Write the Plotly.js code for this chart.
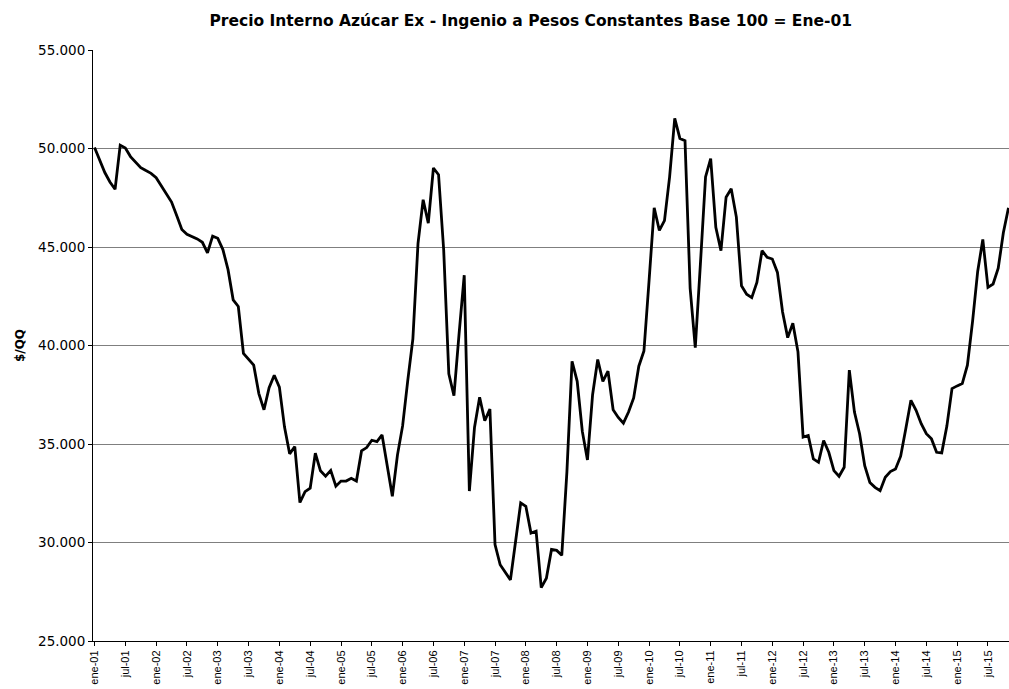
<!DOCTYPE html>
<html>
<head>
<meta charset="utf-8">
<script src="https://cdn.plot.ly/plotly-3.0.1.min.js"></script>
<style>html,body{margin:0;padding:0;background:#fff;}#chart{width:1009px;height:689px;}</style>
</head>
<body>
<div id="chart"></div>
<script>
// Month abbreviations and years for the category axis
const monthNames = ["ene","feb","mar","abr","may","jun","jul","ago","sep","oct","nov","dic"];
const years = ["01","02","03","04","05","06","07","08","09","10","11","12","13","14","15"];

// Price values ($/QQ) by year
const p2001 = [50050,49460,48780,48300,47930,50170,50020,49590,49290,49030,48880,48740];
const p2002 = [48520,48100,47640,47280,46600,45890,45650,45550,45410,45240,44700,45550];
const p2003 = [45440,44870,43850,42320,41980,39600,39290,39000,37560,36740,37860,38490];
const p2004 = [37890,35860,34500,34870,32030,32580,32760,34530,33640,33370,33660,32860];
const p2005 = [33120,33120,33260,33120,34650,34820,35190,35120,35460,34000,32350,34450];
const p2006 = [35920,38220,40340,45190,47400,46210,49010,48670,44850,38560,37450,40600];
const p2007 = [43570,32610,35840,37370,36180,36770,29890,28870,28480,28100,30050,32010];
const p2008 = [31840,30480,30570,27710,28190,29650,29600,29350,33600,39200,38180,35640];
const p2009 = [34190,37500,39290,38180,38700,36740,36350,36060,36620,37340,38950,39720];
const p2010 = [43290,46990,45840,46340,48560,51530,50510,50400,42900,39890,44140,48560];
const p2011 = [49490,46000,44815,47530,47960,46520,43030,42600,42430,43200,44815,44475];
const p2012 = [44390,43710,41700,40400,41130,39680,35350,35430,34240,34070,35180,34580];
const p2013 = [33650,33360,33820,38750,36620,35520,33900,33050,32800,32630,33310,33600];
const p2014 = [33730,34380,35770,37220,36710,36030,35520,35260,34580,34550,35910,37810];
const p2015 = [37950,38070,39000,41210,43760,45380,42950,43120,43930,45720,46990];

const values = [].concat(p2001,p2002,p2003,p2004,p2005,p2006,p2007,p2008,p2009,p2010,p2011,p2012,p2013,p2014,p2015);
const categories = [];
for (const y of years) for (const m of monthNames) categories.push(m + "-" + y);
const months = categories.slice(0, values.length);
const tickLabels = months.filter((c, i) => i % 6 === 0);

const trace = {
  x: months,
  y: values,
  type: "scatter",
  mode: "lines",
  line: {color: "#000000", width: 2.8},
  hoverinfo: "x+y"
};

const layout = {
  width: 1009,
  height: 689,
  margin: {l: 93, r: 0, t: 50, b: 48},
  paper_bgcolor: "#ffffff",
  plot_bgcolor: "#ffffff",
  separators: ",.",
  showlegend: false,
  font: {family: "DejaVu Sans, Liberation Sans, Arial, sans-serif", color: "#000"},
  title: {
    text: "<b>Precio Interno Azúcar Ex - Ingenio a Pesos Constantes Base 100 = Ene-01</b>",
    font: {size: 15.5, family: "DejaVu Sans, Arial, sans-serif", color: "#000"},
    xref: "container", x: 0.526, xanchor: "center",
    yref: "container", y: 0.97, yanchor: "middle"
  },
  xaxis: {
    type: "category",
    range: [-0.3, 178.1],
    tickmode: "array",
    tickvals: tickLabels,
    ticktext: tickLabels,
    tickangle: -90,
    tickfont: {size: 11, family: "Liberation Sans, Arial, sans-serif"},
    ticks: "outside",
    ticklen: 4,
    tickcolor: "#000",
    showgrid: false,
    showline: true,
    linecolor: "#000",
    linewidth: 1,
    zeroline: false,
    automargin: false
  },
  yaxis: {
    range: [25000, 55000],
    tickvals: [25000,30000,35000,40000,45000,50000,55000],
    tickformat: ",d",
    tickfont: {size: 13.5, family: "DejaVu Sans, Arial, sans-serif"},
    ticks: "outside",
    ticklen: 4,
    tickcolor: "#000",
    showgrid: true,
    gridcolor: "#7f7f7f",
    gridwidth: 1,
    showline: true,
    linecolor: "#000",
    linewidth: 1,
    zeroline: false,
    automargin: false,
    title: {text: "<b>$/QQ</b>", font: {size: 12, family: "DejaVu Sans, Arial, sans-serif"}, standoff: 10}
  }
};

Plotly.newPlot("chart", [trace], layout, {displayModeBar: false, staticPlot: true});
</script>
</body>
</html>
